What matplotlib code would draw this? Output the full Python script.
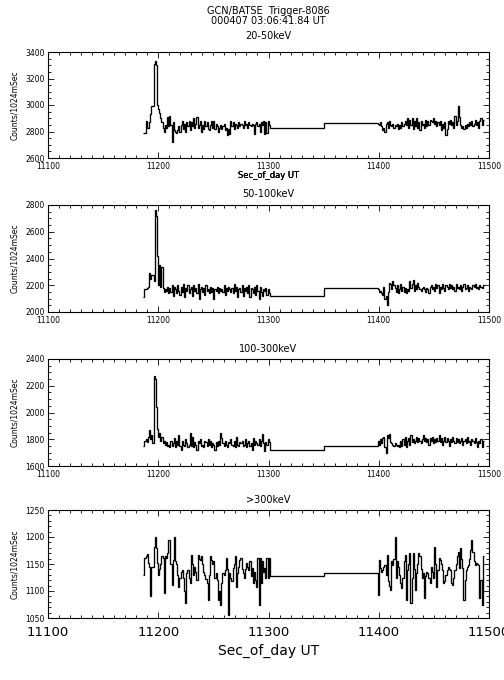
import matplotlib.pyplot as plt
import numpy as np
from matplotlib.ticker import MultipleLocator

# --- time bins (s of day) ---
BIN = 1.024
T_A0 = 11186.5          # start of first data stretch
T_GAP_MID = 11350.3     # change of level inside the gap
T_B0 = 11399.0          # start of second data stretch

# --- 20-50 keV ---
p1_a = [2790, 2790, 2880, 2830, 2830, 2870, 2930, 2990, 2990, 3310,
        3330, 3300, 3000, 2970, 2940, 2900, 2870, 2830, 2800, 2850,
        2830, 2910, 2840, 2920, 2850, 2720, 2870, 2810, 2800, 2790,
        2810, 2840, 2800, 2850, 2880, 2820, 2860, 2800, 2870, 2840,
        2880, 2810, 2870, 2840, 2900, 2830, 2860, 2910, 2830, 2850,
        2880, 2800, 2850, 2820, 2880, 2840, 2870, 2820, 2810, 2850,
        2880, 2830, 2880, 2820, 2860, 2840, 2800, 2830, 2850, 2820,
        2840, 2860, 2810, 2830, 2770, 2820, 2780, 2880, 2840, 2870,
        2820, 2860, 2850, 2830, 2870, 2840, 2860, 2850, 2830, 2880,
        2850, 2860, 2830, 2870, 2850, 2840, 2860, 2850, 2780, 2860,
        2870, 2840, 2860, 2800, 2870, 2850, 2880, 2780, 2870, 2790,
        2880, 2850]
p1_gap = [2823, 2862]
p1_b = [2860, 2850, 2870, 2840, 2810, 2830, 2800, 2860, 2870, 2830,
        2880, 2850, 2840, 2860, 2830, 2850, 2840, 2860, 2820, 2850,
        2830, 2870, 2840, 2860, 2880, 2850, 2900, 2830, 2890, 2850,
        2900, 2820, 2880, 2840, 2900, 2830, 2870, 2810, 2880, 2850,
        2860, 2830, 2890, 2840, 2880, 2850, 2890, 2880, 2870, 2900,
        2860, 2880, 2840, 2870, 2850, 2880, 2810, 2860, 2830, 2870,
        2770, 2820, 2880, 2860, 2890, 2850, 2870, 2830, 2920, 2850,
        2880, 2990, 2910, 2850, 2830, 2840, 2820, 2850, 2830, 2860,
        2840, 2870, 2850, 2880, 2840, 2860, 2890, 2850, 2870, 2830,
        2880, 2900, 2850, 2890]

# --- 50-100 keV ---
p2_a = [2110, 2170, 2175, 2180, 2185, 2290, 2250, 2275, 2275, 2230,
        2760, 2720, 2420, 2200, 2350, 2190, 2340, 2180, 2150, 2170,
        2160, 2190, 2140, 2180, 2150, 2200, 2120, 2190, 2170, 2140,
        2200, 2160, 2130, 2190, 2150, 2210, 2110, 2180, 2160, 2200,
        2140, 2170, 2190, 2120, 2200, 2160, 2180, 2140, 2210, 2100,
        2170, 2190, 2150, 2180, 2130, 2200, 2160, 2170, 2140, 2190,
        2150, 2180, 2100, 2170, 2160, 2190, 2140, 2180, 2160, 2170,
        2150, 2200, 2130, 2180, 2160, 2190, 2170, 2150, 2180, 2140,
        2210, 2160, 2190, 2110, 2170, 2180, 2150, 2200, 2120, 2180,
        2160, 2190, 2140, 2200, 2110, 2180, 2170, 2140, 2190, 2130,
        2200, 2160, 2100, 2190, 2150, 2120, 2170, 2160, 2180, 2130,
        2170, 2140]
p2_gap = [2117, 2182]
p2_b = [2170, 2150, 2160, 2140, 2130, 2190, 2100, 2120, 2050, 2150,
        2220, 2210, 2170, 2230, 2200, 2180, 2150, 2200, 2140, 2170,
        2210, 2160, 2190, 2150, 2180, 2140, 2170, 2160, 2230, 2180,
        2210, 2240, 2160, 2200, 2170, 2220, 2190, 2170, 2160, 2180,
        2190, 2170, 2150, 2180, 2170, 2140, 2190, 2200, 2170, 2190,
        2160, 2210, 2180, 2200, 2140, 2190, 2170, 2210, 2180, 2160,
        2200, 2190, 2170, 2210, 2180, 2200, 2170, 2190, 2160, 2210,
        2180, 2190, 2170, 2200, 2160, 2190, 2210, 2170, 2180, 2200,
        2160, 2190, 2180, 2170, 2200, 2190, 2210, 2180, 2190, 2170,
        2200, 2190, 2180, 2200]

# --- 100-300 keV ---
p3_a = [1750, 1790, 1800, 1780, 1820, 1870, 1800, 1830, 1770, 2270,
        2250, 2040, 1880, 1820, 1850, 1790, 1820, 1770, 1790, 1760,
        1780, 1750, 1760, 1740, 1790, 1750, 1770, 1810, 1740, 1790,
        1760, 1830, 1750, 1720, 1790, 1760, 1750, 1800, 1770, 1740,
        1760, 1850, 1750, 1820, 1740, 1780, 1760, 1720, 1790, 1770,
        1800, 1750, 1760, 1740, 1790, 1780, 1750, 1800, 1760, 1790,
        1740, 1770, 1760, 1720, 1780, 1750, 1790, 1760, 1850, 1810,
        1770, 1750, 1790, 1760, 1740, 1780, 1770, 1800, 1760, 1750,
        1790, 1740, 1820, 1760, 1750, 1780, 1770, 1790, 1750, 1760,
        1800, 1740, 1770, 1790, 1750, 1770, 1720, 1810, 1760, 1790,
        1770, 1760, 1800, 1750, 1790, 1840, 1770, 1710, 1780, 1760,
        1800, 1780]
p3_gap = [1722, 1748]
p3_b = [1790, 1760, 1800, 1770, 1810, 1820, 1740, 1700, 1830, 1810,
        1840, 1780, 1770, 1760, 1750, 1770, 1760, 1750, 1760, 1740,
        1790, 1750, 1800, 1760, 1820, 1740, 1790, 1810, 1760, 1830,
        1780, 1800, 1770, 1790, 1820, 1780, 1810, 1790, 1770, 1800,
        1830, 1790, 1810, 1780, 1800, 1760, 1810, 1790, 1820, 1770,
        1800, 1780, 1810, 1790, 1830, 1780, 1810, 1760, 1790, 1820,
        1780, 1810, 1790, 1750, 1800, 1780, 1820, 1790, 1770, 1810,
        1780, 1800, 1770, 1790, 1810, 1760, 1790, 1800, 1770, 1820,
        1780, 1790, 1760, 1800, 1790, 1770, 1810, 1780, 1740, 1790,
        1770, 1800, 1740, 1790]

# --- >300 keV ---
p4_a = [1130, 1161, 1164, 1168, 1152, 1145, 1090, 1145, 1145, 1182,
        1200, 1180, 1152, 1130, 1140, 1150, 1164, 1161, 1096, 1164,
        1161, 1170, 1195, 1195, 1150, 1112, 1158, 1200, 1155, 1150,
        1130, 1108, 1124, 1135, 1139, 1124, 1100, 1078, 1133, 1139,
        1125, 1115, 1167, 1150, 1130, 1145, 1135, 1120, 1167, 1160,
        1158, 1164, 1150, 1136, 1130, 1122, 1115, 1084, 1130, 1164,
        1158, 1150, 1155, 1124, 1133, 1120, 1084, 1100, 1075, 1115,
        1133, 1130, 1139, 1161, 1140, 1056, 1133, 1125, 1118, 1142,
        1150, 1164, 1108, 1133, 1145, 1158, 1161, 1140, 1133, 1124,
        1140, 1152, 1145, 1139, 1155, 1127, 1142, 1115, 1136, 1121,
        1108, 1161, 1075, 1161, 1115, 1155, 1136, 1142, 1125, 1161,
        1124, 1161]
p4_gap = [1127, 1133]
p4_b = [1093, 1158, 1143, 1136, 1139, 1145, 1148, 1130, 1167, 1118,
        1110, 1102, 1155, 1148, 1160, 1200, 1124, 1155, 1145, 1130,
        1115, 1105, 1124, 1155, 1167, 1084, 1139, 1150, 1170, 1078,
        1124, 1170, 1140, 1102, 1133, 1150, 1170, 1164, 1140, 1124,
        1133, 1087, 1127, 1136, 1133, 1125, 1115, 1145, 1135, 1124,
        1182, 1150, 1108, 1139, 1161, 1158, 1150, 1139, 1115, 1118,
        1130, 1139, 1145, 1140, 1139, 1115, 1112, 1125, 1139, 1150,
        1164, 1173, 1142, 1179, 1160, 1142, 1084, 1121, 1139, 1145,
        1148, 1160, 1176, 1195, 1173, 1155, 1148, 1152, 1150, 1148,
        1087, 1121, 1075, 1164]

titles = ['20-50keV', '50-100keV', '100-300keV', '>300keV']
ylims = [(2600, 3400), (2000, 2800), (1600, 2400), (1050, 1250)]
ysteps = [200, 200, 200, 50]
yminor = [50, 50, 50, 10]

# pixel boxes of the four plots (left, top, right, bottom)
W, H = 504, 680
boxes = [(48, 52, 489, 158), (48, 205, 489, 312),
         (48, 359, 489, 466), (48, 510, 489, 618)]
title_y = [36, 194, 349, 500]

fig = plt.figure(figsize=(W / 100, H / 100), dpi=100)
fig.text(268.5 / W, 1 - 10.5 / H, 'GCN/BATSE  Trigger-8086', ha='center', va='center', fontsize=7)
fig.text(268.5 / W, 1 - 20.5 / H, '000407 03:06:41.84 UT', ha='center', va='center', fontsize=7)

series = [(p1_a, p1_gap, p1_b), (p2_a, p2_gap, p2_b),
          (p3_a, p3_gap, p3_b), (p4_a, p4_gap, p4_b)]

for i, (a, gap, b) in enumerate(series):
    l, t, r, bt = boxes[i]
    ax = fig.add_axes([l / W, 1 - bt / H, (r - l) / W, (bt - t) / H])

    edges_a = T_A0 + BIN * np.arange(len(a) + 1)
    edges_b = T_B0 + BIN * np.arange(len(b) + 1)
    edges = np.concatenate([edges_a, [T_GAP_MID], edges_b])
    vals = np.concatenate([a, gap, b])
    ax.stairs(vals, edges, baseline=None, color='black', lw=0.95)

    ax.set_xlim(11100, 11500)
    ax.set_ylim(*ylims[i])
    ax.xaxis.set_major_locator(MultipleLocator(100))
    ax.xaxis.set_minor_locator(MultipleLocator(10))
    ax.yaxis.set_major_locator(MultipleLocator(ysteps[i]))
    ax.yaxis.set_minor_locator(MultipleLocator(yminor[i]))
    ax.tick_params(which='both', direction='in', top=True, right=True, width=0.6)
    ax.tick_params(which='major', length=4)
    ax.tick_params(which='minor', length=2)
    ax.tick_params(axis='y', labelsize=5.5, pad=2.5)
    for s in ax.spines.values():
        s.set_linewidth(0.8)

    h = bt - t
    ax.text(0.5, 1 + (t - title_y[i]) / h, titles[i], transform=ax.transAxes,
            ha='center', va='center', fontsize=7)
    ax.text((15 - l) / (r - l), 0.5, 'Counts/1024mSec', transform=ax.transAxes,
            rotation=90, ha='center', va='center', fontsize=5.5)

    if i < 3:
        ax.tick_params(axis='x', labelsize=5.5, pad=3)
        ax.text(0.5, -(176 - bt) / h, 'Sec_of_day UT', transform=ax.transAxes,
                ha='center', va='center', fontsize=6)
    else:
        ax.tick_params(axis='x', labelsize=9.5, pad=5.5)
        ax.text(0.5, -(651 - bt) / h, 'Sec_of_day UT', transform=ax.transAxes,
                ha='center', va='center', fontsize=10)

plt.savefig('out.png', dpi=100)
